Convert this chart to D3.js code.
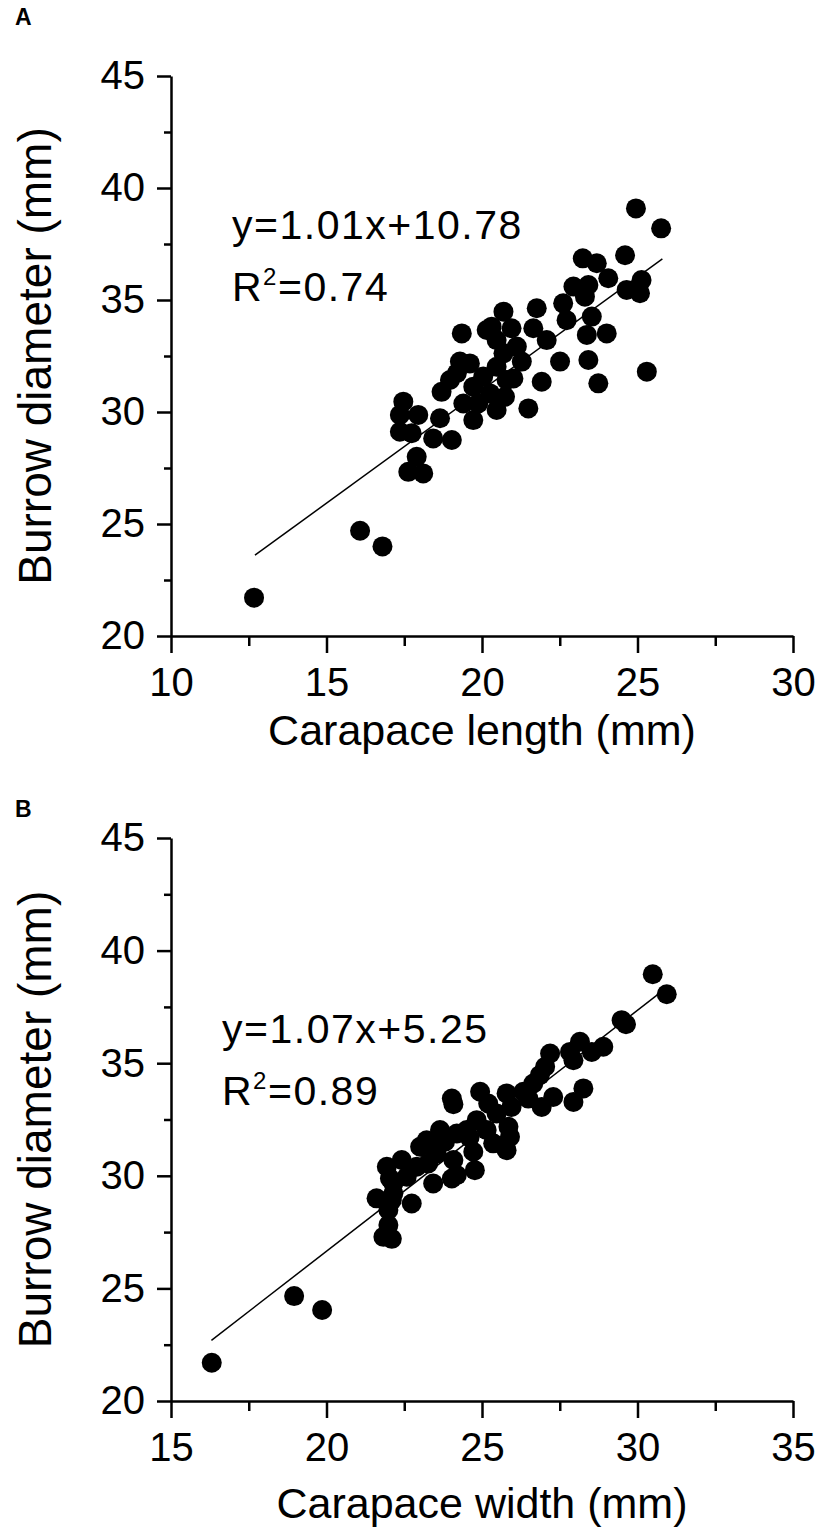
<!DOCTYPE html>
<html>
<head>
<meta charset="utf-8">
<script src="https://cdn.jsdelivr.net/npm/d3@7"></script>
<style>
  html, body { margin: 0; padding: 0; background: #fff; }
  svg { display: block; font-family: "Liberation Sans", Arial, sans-serif; }
</style>
</head>
<body>
<div id="chart"></div>
<script>
// Panel A: carapace length (mm) vs burrow diameter (mm)
const lengthA = [12.67, 16.08, 16.8, 24.95, 25.76, 24.6, 23.24, 23.69, 24.06, 25.13,
  22.94, 23.42, 24.65, 25.08, 22.61, 23.31, 21.76, 20.69, 22.72, 23.53,
  19.35, 20.31, 20.95, 21.65, 24.01, 23.37, 22.08, 20.47, 21.12, 20.69,
  21.28, 22.51, 23.42, 25.3, 19.29, 19.61, 21.92, 23.74, 21.01, 20.04,
  19.19, 18.7, 19.72, 20.26, 20.74, 21.49, 19.4, 19.88, 20.47, 19.72,
  17.47, 18.65, 17.95, 17.36, 17.36, 17.74, 18.43, 19.03, 17.9, 17.63,
  18.11, 18.97, 20.47, 20.79, 20.15];
const diamA = [21.71, 24.7, 24.0, 39.09, 38.2, 37.0, 36.86, 36.64, 35.97, 35.89,
  35.6, 35.67, 35.45, 35.3, 34.85, 35.15, 34.63, 34.48, 34.1, 34.26,
  33.51, 33.81, 33.74, 33.74, 33.51, 33.44, 33.21, 33.21, 32.92, 32.62,
  32.25, 32.25, 32.32, 31.8, 32.25, 32.17, 31.35, 31.28, 31.5, 31.58,
  31.73, 30.9, 31.13, 30.83, 30.68, 30.16, 30.38, 30.38, 30.09, 29.64,
  30.46, 29.72, 29.87, 29.87, 29.12, 29.05, 28.82, 28.75, 28.0, 27.33,
  27.26, 31.43, 32.02, 31.43, 33.66];

// Panel B: carapace width (mm) vs burrow diameter (mm)
const widthB = [16.31, 18.96, 19.86, 30.49, 30.94, 29.63, 29.49, 28.9, 28.53, 28.15,
  27.83, 27.94, 27.19, 27.03, 26.86, 26.65, 28.26, 27.94, 27.29, 26.92,
  26.49, 25.79, 25.95, 24.94, 24.03, 24.08, 25.2, 25.47, 24.83, 25.85,
  25.9, 25.79, 25.36, 25.15, 24.51, 24.19, 23.65, 24.72, 24.77, 24.08,
  24.03, 23.54, 23.01, 23.27, 23.43, 22.9, 22.42, 21.94, 22.04, 22.58,
  21.61, 22.15, 22.74, 21.99, 21.99, 21.83, 22.1, 26.33, 24.6, 24.19,
  22.15, 22.1, 23.22, 23.81];
const diamB = [21.7, 24.66, 24.04, 38.95, 38.06, 36.73, 36.91, 35.73, 35.5, 35.95,
  35.5, 35.13, 35.43, 34.84, 34.47, 34.1, 33.88, 33.28, 33.5, 33.06,
  33.43, 33.66, 33.06, 33.73, 33.43, 33.18, 33.21, 32.77, 32.47, 32.18,
  31.73, 31.14, 31.44, 32.03, 32.03, 31.88, 32.03, 31.07, 30.25, 30.7,
  29.88, 30.99, 31.29, 30.55, 29.66, 30.4, 30.7, 30.4, 29.88, 29.96,
  29.0, 29.22, 28.77, 28.48, 27.81, 27.29, 27.2, 33.73, 31.7, 30.03,
  29.66, 28.92, 31.58, 31.51];

// Tick values
const yTicks = [20, 25, 30, 35, 40, 45];
const yMinor = [22.5, 27.5, 32.5, 37.5, 42.5];
const xTicksA = [10, 15, 20, 25, 30];
const xMinorA = [12.5, 17.5, 22.5, 27.5];
const xTicksB = [15, 20, 25, 30, 35];
const xMinorB = [17.5, 22.5, 27.5, 32.5];

// Fitted lines [slope, intercept, xStart, xEnd] and R2
const fitA = [1.01, 10.78, 12.7, 25.8];
const fitB = [1.07, 5.25, 16.3, 31.0];
const r2A = '0.74';
const r2B = '0.89';

const svg = d3.select('#chart')
  .append('svg')
  .attr('width', 827)
  .attr('height', 1533);

/**
 * Draw one scatter panel
 */
function drawPanel(cfg) {
  const x = d3.scaleLinear().domain(cfg.xDomain).range([171, 793]);
  const y = d3.scaleLinear().domain([20, 45]).range([cfg.yBottom, cfg.yTop]);

  const g = svg.append('g');

  // Panel letter
  g.append('text')
    .attr('x', 15)
    .attr('y', cfg.letterY)
    .style('font-size', '23px')
    .style('font-weight', 'bold')
    .text(cfg.letter);

  // Minor ticks first (no labels)
  g.append('g')
    .attr('transform', `translate(0,${cfg.yBottom})`)
    .call(d3.axisBottom(x).tickValues(cfg.xMinor).tickSize(10).tickFormat(''))
    .call(a => a.select('.domain').remove());
  g.append('g')
    .attr('transform', 'translate(171,0)')
    .call(d3.axisLeft(y).tickValues(yMinor).tickSize(7).tickFormat(''))
    .call(a => a.select('.domain').remove());

  // Major axes
  const xAxis = g.append('g')
    .attr('transform', `translate(0,${cfg.yBottom})`)
    .call(d3.axisBottom(x).tickValues(cfg.xTicks).tickSize(17).tickSizeOuter(0).tickPadding(15));
  const yAxis = g.append('g')
    .attr('transform', 'translate(171,0)')
    .call(d3.axisLeft(y).tickValues(yTicks).tickSize(14).tickSizeOuter(0).tickPadding(12));

  [xAxis, yAxis].forEach(a => {
    a.selectAll('text')
      .style('font-size', '40px')
      .style('font-family', '"Liberation Sans", Arial, sans-serif')
      .attr('fill', '#000');
  });
  g.selectAll('.domain, .tick line')
    .attr('stroke', '#000')
    .attr('stroke-width', 2.5);

  // Axis titles
  g.append('text')
    .attr('x', 482)
    .attr('y', cfg.xTitleY)
    .attr('text-anchor', 'middle')
    .style('font-size', '43px')
    .text(cfg.xTitle);

  g.append('text')
    .attr('transform', `translate(51,${(cfg.yBottom + cfg.yTop) / 2}) rotate(-90)`)
    .attr('text-anchor', 'middle')
    .style('font-size', '46px')
    .text('Burrow diameter (mm)');

  // Regression line
  const fit = cfg.fit;
  g.append('line')
    .attr('x1', x(fit[2]))
    .attr('y1', y(fit[0] * fit[2] + fit[1]))
    .attr('x2', x(fit[3]))
    .attr('y2', y(fit[0] * fit[3] + fit[1]))
    .attr('stroke', '#000')
    .attr('stroke-width', 1.5);

  // Points
  g.selectAll('.pt')
    .data(cfg.xs.map((v, i) => [v, cfg.ys[i]]))
    .enter()
    .append('circle')
    .attr('class', 'pt')
    .attr('cx', d => x(d[0]))
    .attr('cy', d => y(d[1]))
    .attr('r', 10)
    .attr('fill', '#000');

  // Equation + R2
  g.append('text')
    .attr('x', cfg.eqX)
    .attr('y', cfg.eqY)
    .style('font-size', '41px')
    .style('letter-spacing', '1.5px')
    .text(`y=${fit[0].toFixed(2)}x+${fit[1].toFixed(2)}`);

  const r = g.append('text')
    .attr('x', cfg.eqX)
    .attr('y', cfg.eqY + 62)
    .style('font-size', '41px')
    .style('letter-spacing', '1.5px');
  r.append('tspan').text('R');
  r.append('tspan').attr('dy', -16).style('font-size', '24px').text('2');
  r.append('tspan').attr('dy', 16).text('=' + cfg.r2);
}

drawPanel({
  letter: 'A', letterY: 25,
  xDomain: [10, 30], xTicks: xTicksA, xMinor: xMinorA,
  yTop: 76, yBottom: 636, xTitleY: 745,
  xTitle: 'Carapace length (mm)',
  xs: lengthA, ys: diamA, fit: fitA, r2: r2A,
  eqX: 232, eqY: 239
});

drawPanel({
  letter: 'B', letterY: 817,
  xDomain: [15, 35], xTicks: xTicksB, xMinor: xMinorB,
  yTop: 838, yBottom: 1401, xTitleY: 1518,
  xTitle: 'Carapace width (mm)',
  xs: widthB, ys: diamB, fit: fitB, r2: r2B,
  eqX: 222, eqY: 1043
});
</script>
</body>
</html>
